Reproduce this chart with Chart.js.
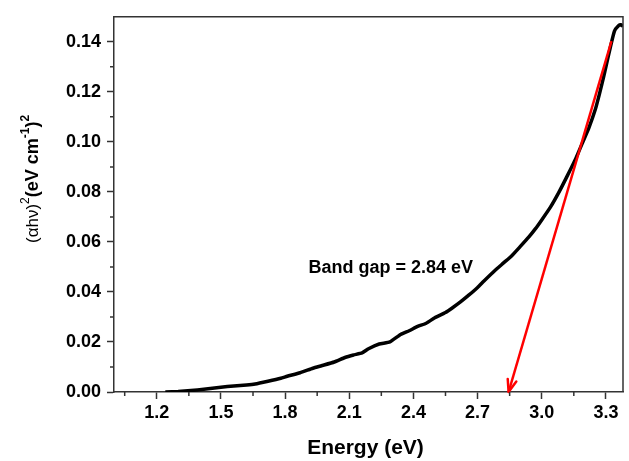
<!DOCTYPE html>
<html>
<head>
<meta charset="utf-8">
<script src="https://cdn.jsdelivr.net/npm/chart.js@4.4.0/dist/chart.umd.min.js"></script>
<style>
  body { margin: 0; background: #fff; }
  #wrap { width: 629px; height: 461px; }
</style>
</head>
<body>
<div id="wrap"><canvas id="chart" width="629" height="461"></canvas></div>
<script>
// 数据
const energy = [1.24, 1.30, 1.36, 1.42, 1.50, 1.56, 1.62, 1.66, 1.72, 1.78, 1.81, 1.87, 1.93, 1.97,
  2.03, 2.08, 2.12, 2.16, 2.19, 2.24, 2.29, 2.34, 2.38, 2.42, 2.46, 2.50, 2.55, 2.58, 2.62, 2.66,
  2.70, 2.73, 2.78, 2.82, 2.86, 2.90, 2.94, 2.97, 3.00, 3.04, 3.08, 3.12, 3.16, 3.19, 3.22, 3.25,
  3.27, 3.29, 3.30, 3.32, 3.34, 3.36, 3.37, 3.38];
const absorb = [0.0000, 0.0002, 0.0006, 0.0011, 0.0019, 0.0024, 0.0028, 0.0032, 0.0043, 0.0055, 0.0063, 0.0077, 0.0095, 0.0105,
  0.0120, 0.0138, 0.0148, 0.0156, 0.0173, 0.0192, 0.0200, 0.0230, 0.0245, 0.0262, 0.0275, 0.0297, 0.0318, 0.0335, 0.0360, 0.0388,
  0.0418, 0.0444, 0.0485, 0.0515, 0.0545, 0.0582, 0.0620, 0.0652, 0.0688, 0.0738, 0.0798, 0.0865, 0.0935, 0.0995, 0.1055, 0.1128,
  0.1192, 0.1262, 0.1300, 0.1375, 0.1443, 0.1465, 0.1468, 0.1462];

// 切线 (外推到 x 轴)
const fitEnergy = [3.326, 2.845];
const fitValue = [0.1403, 0.0];

const xTicks = [1.2, 1.5, 1.8, 2.1, 2.4, 2.7, 3.0, 3.3];
const xMinor = [1.05, 1.35, 1.65, 1.95, 2.25, 2.55, 2.85, 3.15];
const yTicks = [0.00, 0.02, 0.04, 0.06, 0.08, 0.10, 0.12, 0.14];
const yMinor = [0.01, 0.03, 0.05, 0.07, 0.09, 0.11, 0.13];

const bandGapLabel = 'Band gap = 2.84 eV';
const FONT = '"Liberation Sans", Arial, sans-serif';
const AXIS = '#333';

// 次刻度、边框、箭头、文字
const decorPlugin = {
  id: 'decor',
  afterDatasetsDraw(chart) {
    const ctx = chart.ctx;
    const xs = chart.scales.x, ys = chart.scales.y;
    ctx.save();
    // 箭头
    const tx = xs.getPixelForValue(fitEnergy[1]), ty = ys.getPixelForValue(fitValue[1]);
    const sx = xs.getPixelForValue(fitEnergy[0]), sy = ys.getPixelForValue(fitValue[0]);
    const ang = Math.atan2(sy - ty, sx - tx);
    ctx.strokeStyle = '#ff0000';
    ctx.lineWidth = 2.5;
    ctx.lineCap = 'round';
    ctx.beginPath();
    [-0.35, 0.35].forEach(d => {
      ctx.moveTo(tx, ty);
      ctx.lineTo(tx + 13 * Math.cos(ang + d), ty + 13 * Math.sin(ang + d));
    });
    ctx.stroke();
    ctx.restore();
  },
  afterDraw(chart) {
    const ctx = chart.ctx;
    const xs = chart.scales.x, ys = chart.scales.y;
    const a = chart.chartArea;
    ctx.save();
    ctx.strokeStyle = AXIS;
    ctx.lineWidth = 1.5;
    // 上、右边框
    ctx.beginPath();
    ctx.moveTo(a.left, a.top);
    ctx.lineTo(a.right, a.top);
    ctx.lineTo(a.right, a.bottom);
    ctx.stroke();
    // 次刻度
    ctx.beginPath();
    xMinor.forEach(v => {
      const px = xs.getPixelForValue(v);
      ctx.moveTo(px, a.bottom);
      ctx.lineTo(px, a.bottom + 4);
    });
    yMinor.forEach(v => {
      const py = ys.getPixelForValue(v);
      ctx.moveTo(a.left, py);
      ctx.lineTo(a.left - 4, py);
    });
    ctx.stroke();

    // 标注文字
    ctx.fillStyle = '#000';
    ctx.font = 'bold 18px ' + FONT;
    ctx.textBaseline = 'middle';
    ctx.textAlign = 'left';
    ctx.fillText(bandGapLabel, xs.getPixelForValue(1.909), ys.getPixelForValue(0.0496));

    // x 轴标题
    ctx.font = 'bold 21px ' + FONT;
    ctx.textAlign = 'center';
    ctx.fillText('Energy (eV)', (a.left + a.right) / 2 - 3, 448);

    // y 轴标题 (带上标)
    ctx.translate(38, 243);
    ctx.rotate(-Math.PI / 2);
    ctx.textAlign = 'left';
    ctx.textBaseline = 'alphabetic';
    const parts = [
      ['(\u03B1h\u03BD)', '17px ' + FONT, 0],
      ['2', '12px ' + FONT, -9],
      ['(eV cm', 'bold 18px ' + FONT, 0],
      ['-1', 'bold 12px ' + FONT, -9],
      [')', 'bold 18px ' + FONT, 0],
      ['2', 'bold 12px ' + FONT, -9]
    ];
    let x = 0;
    parts.forEach(p => {
      ctx.font = p[1];
      ctx.fillText(p[0], x, p[2]);
      x += ctx.measureText(p[0]).width;
    });
    ctx.restore();
  }
};

new Chart(document.getElementById('chart'), {
  type: 'scatter',
  data: {
    datasets: [{
      data: fitEnergy.map((e, i) => ({ x: e, y: fitValue[i] })),
      showLine: true,
      borderColor: '#ff0000',
      borderWidth: 2.5,
      pointRadius: 0,
      order: 0
    }, {
      data: energy.map((e, i) => ({ x: e, y: absorb[i] })),
      showLine: true,
      borderColor: '#000',
      borderWidth: 3.5,
      pointRadius: 0,
      tension: 0.15,
      order: 1
    }]
  },
  options: {
    responsive: false,
    animation: false,
    events: [],
    layout: { padding: { left: 0, top: 14, right: 6, bottom: 0 } },
    plugins: { legend: { display: false }, tooltip: { enabled: false } },
    scales: {
      x: {
        type: 'linear',
        min: 1.0,
        max: 3.38,
        afterBuildTicks: s => { s.ticks = xTicks.map(v => ({ value: v })); },
        afterFit: s => { s.height = 69; },
        border: { color: AXIS, width: 1.5 },
        grid: { drawOnChartArea: false, tickLength: 7, tickColor: AXIS, tickWidth: 1.5 },
        ticks: {
          color: '#000',
          padding: 3,
          maxRotation: 0,
          font: { family: FONT, size: 18, weight: 'bold' },
          callback: v => Number(v).toFixed(1)
        }
      },
      y: {
        min: 0,
        max: 0.15,
        afterBuildTicks: s => { s.ticks = yTicks.map(v => ({ value: v })); },
        afterFit: s => { s.width = 114; },
        border: { color: AXIS, width: 1.5 },
        grid: { drawOnChartArea: false, tickLength: 7, tickColor: AXIS, tickWidth: 1.5 },
        ticks: {
          color: '#000',
          padding: 6,
          font: { family: FONT, size: 18, weight: 'bold' },
          callback: v => Number(v).toFixed(2)
        }
      }
    }
  },
  plugins: [decorPlugin]
});
</script>
</body>
</html>
